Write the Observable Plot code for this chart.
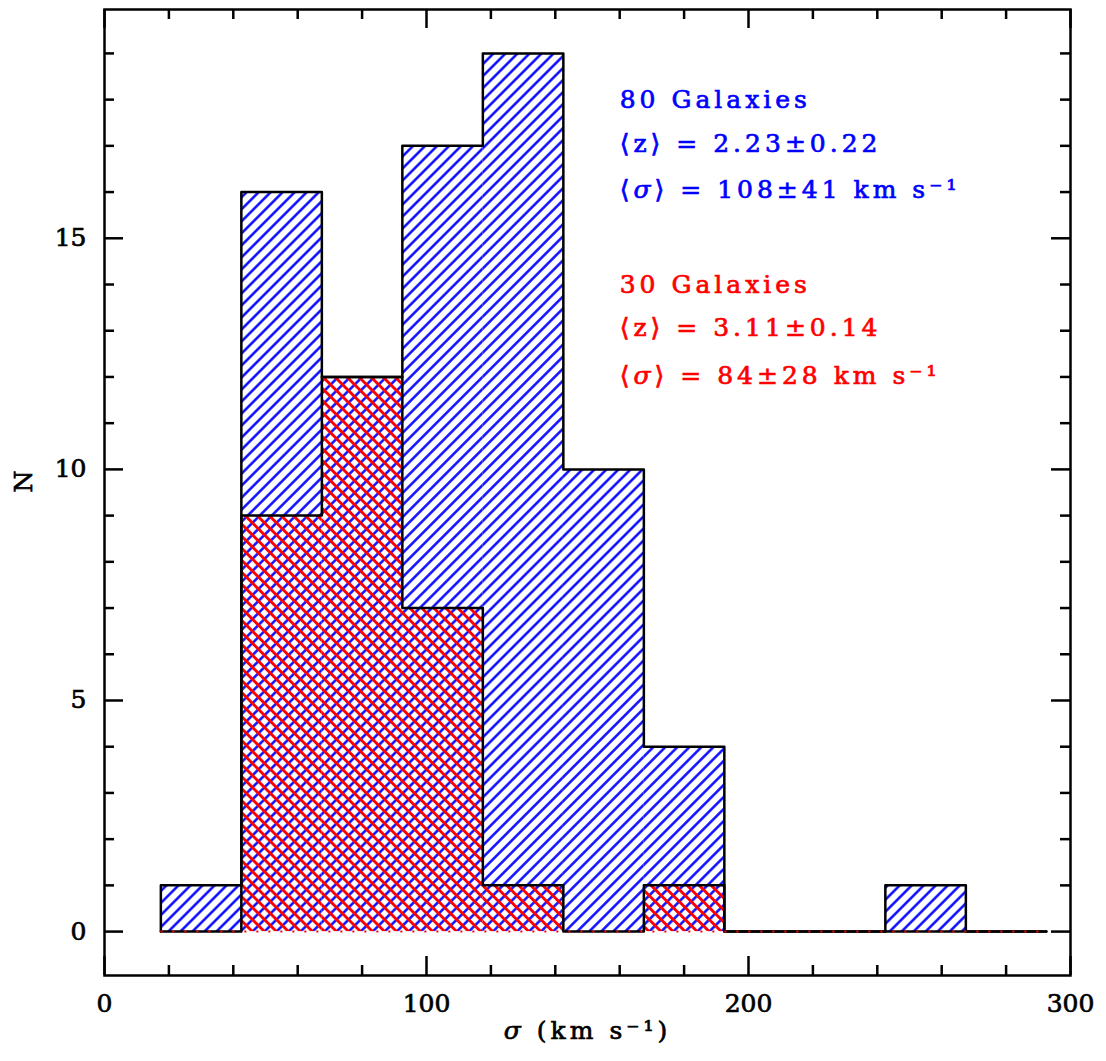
<!DOCTYPE html>
<html>
<head>
<meta charset="utf-8">
<script src="https://cdn.jsdelivr.net/npm/d3@7"></script>
<script src="https://cdn.jsdelivr.net/npm/@observablehq/plot@0.6"></script>
<style>
  html, body { margin: 0; padding: 0; background: #fff; }
  svg { display: block; }
</style>
</head>
<body>
<div id="chart"></div>
<script>
// ---- data ----
const binStarts = [17.5, 42.5, 67.5, 92.5, 117.5, 142.5, 167.5, 192.5, 217.5, 242.5, 267.5];
const binWidth = 25;
const blueCounts = [1, 16, 12, 17, 19, 10, 4, 0, 0, 1, 0];
const redCounts  = [0, 9, 12, 7, 1, 0, 1, 0, 0, 0, 0];
const xMajorTicks = [0, 100, 200, 300];
const xMinorTicks = [20, 40, 60, 80, 120, 140, 160, 180, 220, 240, 260, 280];
const yMajorTicks = [0, 5, 10, 15];
const yMinorTicks = [1, 2, 3, 4, 6, 7, 8, 9, 11, 12, 13, 14, 16, 17, 18, 19];
const blueLabels = ["80 Galaxies", "⟨z⟩ = 2.23±0.22", "⟨σ⟩ = 108±41 km s⁻¹"];
const redLabels  = ["30 Galaxies", "⟨z⟩ = 3.11±0.14", "⟨σ⟩ = 84±28 km s⁻¹"];
const xTitle = "σ (km s⁻¹)";
const yTitle = "N";

// ---- derived tables ----
const bins = binStarts.map((x0, i) => ({x1: x0, x2: x0 + binWidth, blue: blueCounts[i], red: redCounts[i]}));
const lastEdge = binStarts[binStarts.length - 1] + binWidth;
function outline(counts) {
  return [{x: binStarts[0], y: 0}, ...binStarts.map((x, i) => ({x, y: counts[i]})), {x: lastEdge, y: 0}];
}

const W = 1106, H = 1061;
const mL = 104, mR = 36, mT = 9, mB = 86;
const fw = W - mL - mR, fh = H - mT - mB;
const majLen = 19, minLen = 10;
const sw = 2.5;

const plot = Plot.plot({
  width: W, height: H,
  marginLeft: mL, marginRight: mR, marginTop: mT, marginBottom: mB,
  x: {domain: [0, 300]},
  y: {domain: [-0.95, 19.95]},
  style: {fontFamily: "'DejaVu Serif', serif", fontSize: "25px", background: "white", color: "black"},
  marks: [
    Plot.rectY(bins, {x1: "x1", x2: "x2", y: "blue", fill: "url(#hatchBlue)"}),
    Plot.rectY(bins, {x1: "x1", x2: "x2", y: "red", fill: "url(#hatchRed)"}),
    Plot.line(outline(blueCounts), {x: "x", y: "y", curve: "step-after", stroke: "black", strokeWidth: sw}),
    Plot.line(outline(redCounts), {x: "x", y: "y", curve: "step-after", stroke: "black", strokeWidth: sw}),
    Plot.ruleY([0], {x1: binStarts[0], x2: lastEdge, stroke: "red", strokeWidth: 2, strokeDasharray: "2,10"}),
    // inward ticks on all four sides
    Plot.tickX(xMajorTicks, {x: d => d, insetTop: fh - majLen, stroke: "black", strokeWidth: sw}),
    Plot.tickX(xMajorTicks, {x: d => d, insetBottom: fh - majLen, stroke: "black", strokeWidth: sw}),
    Plot.tickX(xMinorTicks, {x: d => d, insetTop: fh - minLen, stroke: "black", strokeWidth: sw}),
    Plot.tickX(xMinorTicks, {x: d => d, insetBottom: fh - minLen, stroke: "black", strokeWidth: sw}),
    Plot.tickY(yMajorTicks, {y: d => d, insetRight: fw - majLen, stroke: "black", strokeWidth: sw}),
    Plot.tickY(yMajorTicks, {y: d => d, insetLeft: fw - majLen, stroke: "black", strokeWidth: sw}),
    Plot.tickY(yMinorTicks, {y: d => d, insetRight: fw - minLen, stroke: "black", strokeWidth: sw}),
    Plot.tickY(yMinorTicks, {y: d => d, insetLeft: fw - minLen, stroke: "black", strokeWidth: sw}),
    Plot.frame({stroke: "black", strokeWidth: sw}),
    Plot.axisX(xMajorTicks, {tickSize: 0, tickPadding: 19, label: null, fontSize: 25}),
    Plot.axisY(yMajorTicks, {tickSize: 0, tickPadding: 18, label: null, fontSize: 25}),
    Plot.text([xTitle], {frameAnchor: "bottom", dy: 63, fontSize: 25, fill: "black"}),
    Plot.text([yTitle], {frameAnchor: "left", dx: -81, rotate: -90, fontSize: 25, fill: "black"}),
    Plot.text(blueLabels, {x: 160, y: (d, i) => [18, 17.05, 16.05][i], text: d => d, textAnchor: "start", fill: "#0000ff", fontSize: 25}),
    Plot.text(redLabels, {x: 160, y: (d, i) => [14, 13.05, 12.03][i], text: d => d, textAnchor: "start", fill: "#ff0000", fontSize: 25})
  ]
});

// hatch patterns
const ns = "http://www.w3.org/2000/svg";
const defs = document.createElementNS(ns, "defs");
function hatch(id, color, angle, width) {
  const p = document.createElementNS(ns, "pattern");
  p.setAttribute("id", id);
  p.setAttribute("patternUnits", "userSpaceOnUse");
  p.setAttribute("width", "8.5");
  p.setAttribute("height", "8.5");
  p.setAttribute("patternTransform", `rotate(${angle})`);
  const l = document.createElementNS(ns, "line");
  l.setAttribute("x1", "4.25"); l.setAttribute("x2", "4.25");
  l.setAttribute("y1", "-1"); l.setAttribute("y2", "9.5");
  l.setAttribute("stroke", color);
  l.setAttribute("stroke-width", width);
  p.appendChild(l);
  defs.appendChild(p);
}
hatch("hatchBlue", "#0000ff", 45, 2.4);
hatch("hatchRed", "#ff0000", -45, 2.9);
plot.insertBefore(defs, plot.firstChild);

// heavier glyphs, letter spacing and italic sigma
plot.querySelectorAll("text").forEach(t => {
  const txt = t.textContent;
  const g = t.closest("g");
  const col = t.getAttribute("fill") || (g && g.getAttribute("fill")) || "black";
  t.setAttribute("stroke", col === "currentColor" ? "black" : col);
  t.setAttribute("stroke-width", "0.7");
  if (/[A-Za-zσ⟨]/.test(txt)) t.setAttribute("letter-spacing", "4");
  if (t.children.length === 0 && txt.includes("σ")) {
    const parts = txt.split("σ");
    t.textContent = "";
    parts.forEach((p, i) => {
      if (i > 0) {
        const ts = document.createElementNS(ns, "tspan");
        ts.setAttribute("font-style", "italic");
        ts.textContent = "σ";
        t.appendChild(ts);
      }
      if (p) t.appendChild(document.createTextNode(p));
    });
  }
});

document.getElementById("chart").appendChild(plot);
</script>
</body>
</html>
